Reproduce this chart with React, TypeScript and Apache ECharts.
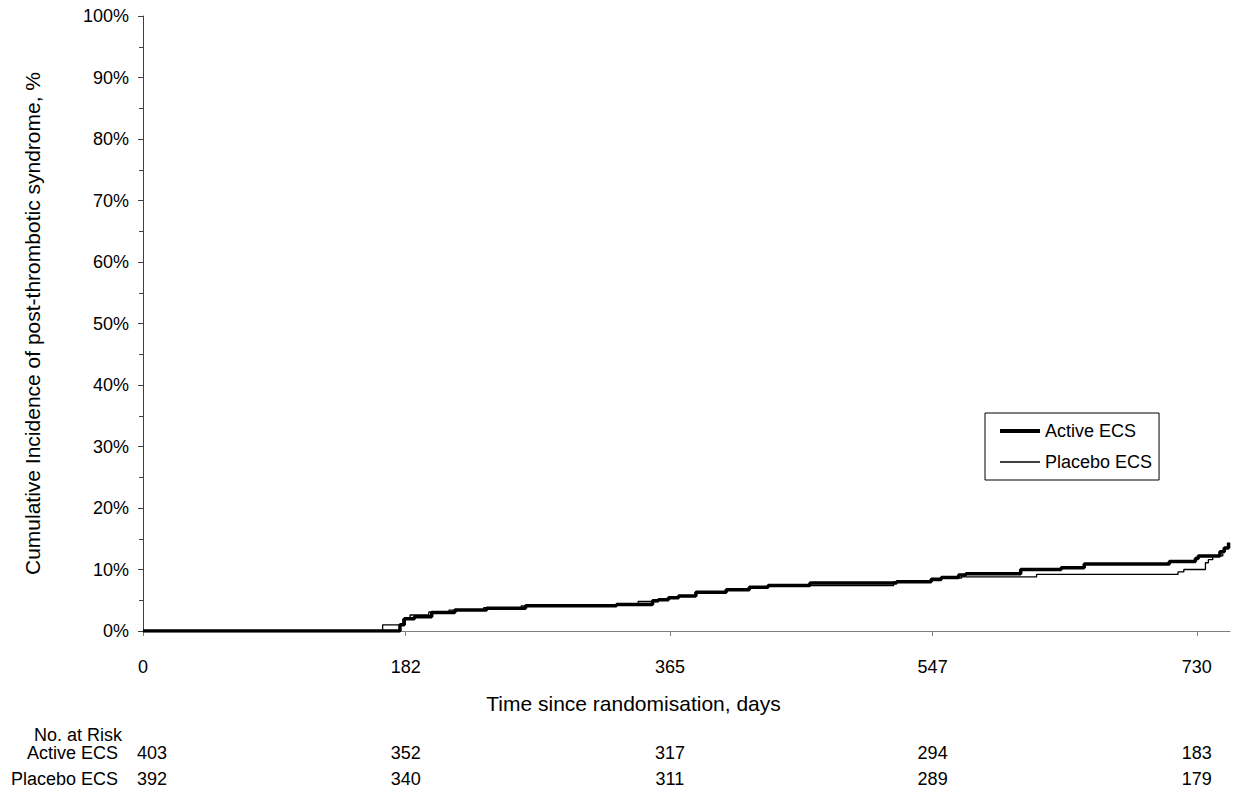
import React, { useEffect, useRef } from "react";
import * as echarts from "echarts";

const xTicks = [0, 182, 365, 547, 730];
const seriesNames = ["Active ECS", "Placebo ECS"];

// Kaplan-Meier style step points: [day, cumulative incidence %]
const activeCurve: [number, number][] = [
  [0, 0], [178, 1.0], [181, 2.0], [188, 2.3], [200, 3.0], [216, 3.4], [238, 3.7],
  [265, 4.1], [328, 4.3], [353, 4.9], [357, 5.1], [364, 5.4], [371, 5.7], [383, 6.3],
  [404, 6.7], [420, 7.1], [433, 7.4], [462, 7.8], [522, 8.0], [546, 8.4], [553, 8.7],
  [565, 9.1], [570, 9.3], [608, 10.0], [636, 10.3], [652, 10.9], [711, 11.3],
  [729, 11.8], [731, 12.2], [746, 12.9], [749, 13.5], [752, 14.4],
];
const placeboCurve: [number, number][] = [
  [0, 0], [166, 1.0], [180, 1.9], [185, 2.6], [198, 3.1], [212, 3.4], [236, 3.8],
  [262, 4.1], [328, 4.3], [343, 4.8], [357, 5.1], [364, 5.4], [371, 5.7], [383, 6.3],
  [404, 6.7], [420, 7.1], [433, 7.4], [520, 8.0], [546, 8.2], [553, 8.6], [567, 8.8],
  [619, 9.2], [717, 9.6], [721, 10.0], [736, 11.1], [738, 11.6], [741, 12.2], [748, 12.6],
];

const riskActive = [403, 352, 317, 294, 183];
const riskPlacebo = [392, 340, 311, 289, 179];
const riskTitle = "No. at Risk";

const FONT = 'Arial, "Liberation Sans", sans-serif';

export default function App() {
  const ref = useRef<HTMLDivElement>(null);

  useEffect(() => {
    const chart = echarts.init(ref.current!, null, { renderer: "svg" });
    chart.setOption({
      animation: false,
      backgroundColor: "#fff",
      textStyle: { fontFamily: FONT, color: "#000" },
      grid: { left: 143, top: 16, right: 6, bottom: 165, containLabel: false },
      legend: {
        left: 985,
        top: 413,
        orient: "vertical",
        data: [
          { name: seriesNames[0], itemStyle: { opacity: 0 }, lineStyle: { color: "#000", width: 4 } },
          { name: seriesNames[1], itemStyle: { opacity: 0 }, lineStyle: { color: "#000", width: 1.3 } },
        ],
        itemWidth: 40,
        itemHeight: 14,
        itemGap: 13,
        padding: [9, 7, 9, 13],
        borderColor: "#000",
        borderWidth: 1,
        backgroundColor: "#fff",
        selectedMode: false,
        textStyle: { fontFamily: FONT, fontSize: 18, color: "#000", lineHeight: 18 },
      },
      xAxis: {
        type: "value",
        min: 0,
        max: 753,
        name: "Time since randomisation, days",
        nameLocation: "middle",
        nameGap: 62,
        nameTextStyle: { fontFamily: FONT, fontSize: 21, color: "#000", padding: [0, 106, 0, 0] },
        axisLine: { show: true, lineStyle: { color: "#808080", width: 1 } },
        axisTick: { show: true, customValues: xTicks, length: 5, inside: false, lineStyle: { color: "#808080" } },
        axisLabel: { show: true, customValues: xTicks, margin: 27, fontFamily: FONT, fontSize: 18, color: "#000" },
        splitLine: { show: false },
      },
      yAxis: {
        type: "value",
        min: 0,
        max: 100,
        interval: 10,
        name: "Cumulative Incidence of post-thrombotic syndrome, %",
        nameLocation: "middle",
        nameGap: 100,
        nameTextStyle: { fontFamily: FONT, fontSize: 21, color: "#000" },
        axisLine: { show: true, lineStyle: { color: "#404040", width: 1 } },
        axisTick: { show: true, inside: false, length: 5, lineStyle: { color: "#404040" } },
        minorTick: { show: true, splitNumber: 2, length: 4, lineStyle: { color: "#404040" } },
        axisLabel: { margin: 14, fontFamily: FONT, fontSize: 18, color: "#000", formatter: "{value}%" },
        splitLine: { show: false },
      },
      series: [
        {
          name: seriesNames[0],
          type: "line",
          step: "end",
          data: activeCurve,
          symbol: "none",
          showSymbol: false,
          lineStyle: { color: "#000", width: 3.5 },
          itemStyle: { color: "#000" },
          z: 3,
        },
        {
          name: seriesNames[1],
          type: "line",
          step: "end",
          data: placeboCurve,
          symbol: "none",
          showSymbol: false,
          lineStyle: { color: "#000", width: 1.3 },
          itemStyle: { color: "#000" },
          z: 4,
        },
      ],
    });

    const rowY = [753, 779];
    const elements: any[] = [
      {
        type: "text",
        x: 122,
        y: 735,
        style: { text: riskTitle, align: "right", verticalAlign: "middle", fontFamily: FONT, fontSize: 18, fill: "#000" },
      },
      {
        type: "text",
        x: 118,
        y: rowY[0],
        style: { text: seriesNames[0], align: "right", verticalAlign: "middle", fontFamily: FONT, fontSize: 18, fill: "#000" },
      },
      {
        type: "text",
        x: 118,
        y: rowY[1],
        style: { text: seriesNames[1], align: "right", verticalAlign: "middle", fontFamily: FONT, fontSize: 18, fill: "#000" },
      },
    ];
    xTicks.forEach((d, i) => {
      const px = chart.convertToPixel({ xAxisIndex: 0 }, d) as number;
      const cx = i === 0 ? px + 9 : px;
      elements.push({
        type: "text",
        x: cx,
        y: rowY[0],
        style: { text: String(riskActive[i]), align: "center", verticalAlign: "middle", fontFamily: FONT, fontSize: 18, fill: "#000" },
      });
      elements.push({
        type: "text",
        x: cx,
        y: rowY[1],
        style: { text: String(riskPlacebo[i]), align: "center", verticalAlign: "middle", fontFamily: FONT, fontSize: 18, fill: "#000" },
      });
    });
    chart.setOption({ graphic: elements });

    return () => chart.dispose();
  }, []);

  return (
    <div
      ref={ref}
      style={{ position: "fixed", left: 0, top: 0, width: 1236, height: 796, background: "#fff" }}
    />
  );
}
